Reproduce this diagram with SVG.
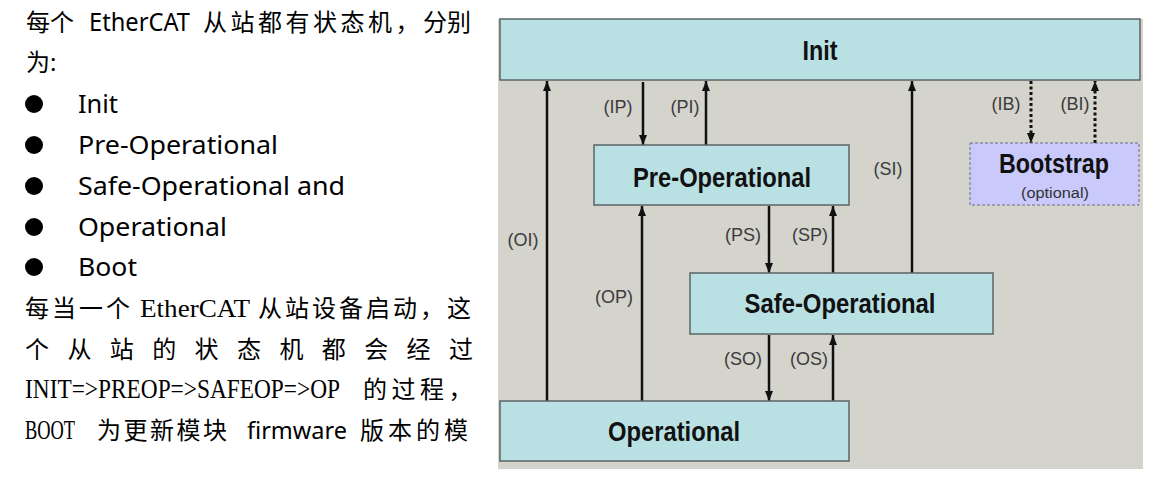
<svg xmlns="http://www.w3.org/2000/svg" width="1160" height="485" viewBox="0 0 1160 485">
<style>
.bg{fill:#ffffff}
.panel{fill:#d4d3cc}
.box{fill:#b9e1e4;stroke:#5b6466;stroke-width:1.5}
.boot{fill:#c9c9fb;stroke:#6a6a8c;stroke-width:1;stroke-dasharray:3 2}
.nl{font-family:"Liberation Sans",Arial,sans-serif;font-weight:bold;font-size:28px;fill:#111;text-anchor:middle}
.tl{font-family:"Liberation Sans",Arial,sans-serif;font-size:18px;fill:#3c3c3c;text-anchor:middle}
.opt{font-family:"Liberation Sans",Arial,sans-serif;font-size:14px;fill:#333;text-anchor:middle}
.c{stroke:#111;stroke-width:2.5;fill:none;marker-end:url(#ah)}
.d{stroke:#111;stroke-width:3;fill:none;stroke-dasharray:3 2.5;marker-end:url(#ah)}
.cjk{font-family:"Noto Sans CJK SC",sans-serif;font-size:24px;fill:#000}
.sans{font-family:"Noto Sans","Noto Sans CJK SC",sans-serif;fill:#000}
.serif{font-family:"Liberation Serif","Noto Sans CJK SC",serif;fill:#000}
</style>
<defs>
<marker id="ah" viewBox="0 0 10 8" refX="10" refY="4" markerWidth="10" markerHeight="8" markerUnits="userSpaceOnUse" orient="auto"><path d="M0,0L10,4L0,8z" fill="#111"/></marker>
</defs>
<rect class="bg" x="0" y="0" width="1160" height="485"/>

<g id="intro-text">
<text class="cjk" x="26" y="31">每个</text>
<text class="sans" x="89" y="31" font-size="25" textLength="101" lengthAdjust="spacingAndGlyphs">EtherCAT</text>
<text class="cjk" x="203" y="31" letter-spacing="3.5">从站都有状态机，</text>
<text class="cjk" x="423" y="31">分别</text>
<text class="cjk" x="26" y="71">为<tspan class="sans" font-size="24">:</tspan></text>
</g>

<g id="bullets">
<circle cx="34" cy="104" r="9" fill="#000"/>
<circle cx="34" cy="145" r="9" fill="#000"/>
<circle cx="34" cy="186" r="9" fill="#000"/>
<circle cx="34" cy="227" r="9" fill="#000"/>
<circle cx="34" cy="267" r="9" fill="#000"/>
<text class="sans" font-size="26" x="78" y="113" textLength="40" lengthAdjust="spacingAndGlyphs">Init</text>
<text class="sans" font-size="26" x="78" y="154" textLength="200" lengthAdjust="spacingAndGlyphs">Pre-Operational</text>
<text class="sans" font-size="26" x="78" y="195" textLength="267" lengthAdjust="spacingAndGlyphs">Safe-Operational and</text>
<text class="sans" font-size="26" x="78" y="236" textLength="149" lengthAdjust="spacingAndGlyphs">Operational</text>
<text class="sans" font-size="26" x="78" y="276" textLength="59" lengthAdjust="spacingAndGlyphs">Boot</text>
</g>

<g id="para-text">
<text class="cjk" x="25" y="317" letter-spacing="3">每当一个</text>
<text class="serif" font-size="26" x="140" y="317" textLength="110" lengthAdjust="spacingAndGlyphs">EtherCAT</text>
<text class="cjk" x="258" y="317" letter-spacing="3">从站设备启动，这</text>
<text class="cjk" x="25 67.4 109.8 152.2 194.6 237 279.4 321.8 364.2 406.6 449" y="358">个从站的状态机都会经过</text>
<text class="serif" font-size="23" transform="translate(25,398) scale(1,1.17)" x="0" y="0" textLength="315" lengthAdjust="spacingAndGlyphs">INIT=&gt;PREOP=&gt;SAFEOP=&gt;OP</text>
<text class="cjk" x="363" y="398" letter-spacing="4.5">的过程，</text>
<text class="serif" font-size="23" transform="translate(25,439) scale(1,1.17)" x="0" y="0" textLength="50" lengthAdjust="spacingAndGlyphs">BOOT</text>
<text class="cjk" x="97" y="439" letter-spacing="2.5">为更新模块</text>
<text class="sans" font-size="24" x="247" y="439" textLength="100" lengthAdjust="spacingAndGlyphs">firmware</text>
<text class="cjk" x="360" y="439" letter-spacing="4">版本的模</text>
</g>

<rect class="panel" x="498" y="19" width="645" height="450"/>

<g id="connectors">
<path class="c" d="M547,401V81"/>
<path class="c" d="M643,82V145"/>
<path class="c" d="M706,145V81"/>
<path class="c" d="M642,401V206"/>
<path class="c" d="M769,206V273"/>
<path class="c" d="M833,273V206"/>
<path class="c" d="M912,273V81"/>
<path class="c" d="M769,335V401"/>
<path class="c" d="M833,401V335"/>
<path class="d" d="M1031,81V143"/>
<path class="d" d="M1095,143V81"/>
<text class="tl" x="523" y="246">(OI)</text>
<text class="tl" x="618" y="113">(IP)</text>
<text class="tl" x="685" y="113">(PI)</text>
<text class="tl" x="614" y="303">(OP)</text>
<text class="tl" x="743" y="241">(PS)</text>
<text class="tl" x="810" y="241">(SP)</text>
<text class="tl" x="888" y="175">(SI)</text>
<text class="tl" x="743" y="365">(SO)</text>
<text class="tl" x="809" y="365">(OS)</text>
<text class="tl" x="1006" y="110">(IB)</text>
<text class="tl" x="1075" y="110">(BI)</text>
</g>

<g id="node-init">
<rect class="box" x="500" y="19" width="640" height="61"/>
<text class="nl" x="820" y="60" textLength="35" lengthAdjust="spacingAndGlyphs">Init</text>
</g>
<g id="node-preop">
<rect class="box" x="594" y="145" width="255" height="60"/>
<text class="nl" x="722" y="187" textLength="178" lengthAdjust="spacingAndGlyphs">Pre-Operational</text>
</g>
<g id="node-safeop">
<rect class="box" x="690" y="273" width="303" height="61"/>
<text class="nl" x="840" y="313" textLength="191" lengthAdjust="spacingAndGlyphs">Safe-Operational</text>
</g>
<g id="node-op">
<rect class="box" x="500" y="401" width="349" height="60"/>
<text class="nl" x="674" y="441" textLength="132" lengthAdjust="spacingAndGlyphs">Operational</text>
</g>
<g id="node-bootstrap">
<rect class="boot" x="970" y="143" width="169" height="62"/>
<text class="nl" x="1054" y="173" textLength="110" lengthAdjust="spacingAndGlyphs">Bootstrap</text>
<text class="opt" x="1055" y="198" textLength="68" lengthAdjust="spacingAndGlyphs">(optional)</text>
</g>
</svg>
